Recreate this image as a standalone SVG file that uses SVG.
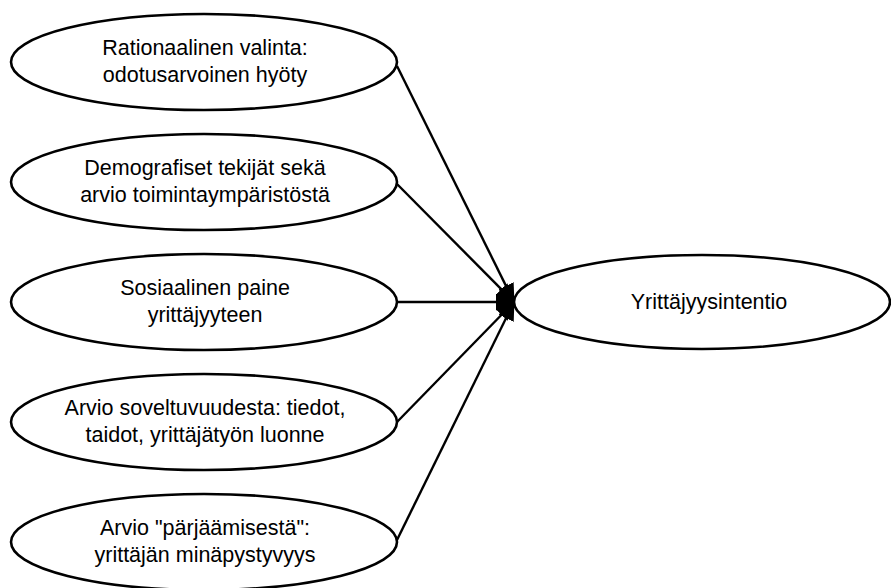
<svg xmlns="http://www.w3.org/2000/svg" width="891" height="588" viewBox="0 0 891 588">
<style>
.node ellipse{fill:#fff;stroke:#000;stroke-width:2.6}
.node text{font-family:"Liberation Sans",Arial,sans-serif;font-size:21.5px;fill:#000;text-anchor:middle}
.conn line{stroke:#000;stroke-width:2.4;fill:none}
</style>
<defs>
<marker id="arr" viewBox="0 0 19 17" refX="18" refY="8.5" markerWidth="19" markerHeight="17" markerUnits="userSpaceOnUse" orient="auto">
<path d="M0,0 L19,8.5 L0,17 Z" fill="#000"/>
</marker>
</defs>
<rect width="891" height="588" fill="#fff"/>
<g id="connectors" class="conn">
<line x1="397" y1="66" x2="514" y2="302" marker-end="url(#arr)"/>
<line x1="397" y1="184" x2="514" y2="302" marker-end="url(#arr)"/>
<line x1="398" y1="302" x2="514" y2="302" marker-end="url(#arr)"/>
<line x1="397" y1="422" x2="514" y2="302" marker-end="url(#arr)"/>
<line x1="396" y1="542" x2="514" y2="302" marker-end="url(#arr)"/>
</g>
<g id="n1" class="node">
<ellipse cx="204" cy="62" rx="193" ry="48"/>
<text x="205" y="55">Rationaalinen valinta:</text>
<text x="205" y="82">odotusarvoinen hyöty</text>
</g>
<g id="n2" class="node">
<ellipse cx="204" cy="182" rx="193" ry="48"/>
<text x="205" y="175">Demografiset tekijät sekä</text>
<text x="205" y="202">arvio toimintaympäristöstä</text>
</g>
<g id="n3" class="node">
<ellipse cx="204" cy="302" rx="193" ry="48"/>
<text x="205" y="295">Sosiaalinen paine</text>
<text x="205" y="322">yrittäjyyteen</text>
</g>
<g id="n4" class="node">
<ellipse cx="204" cy="422" rx="193" ry="48"/>
<text x="205" y="415">Arvio soveltuvuudesta: tiedot,</text>
<text x="205" y="442">taidot, yrittäjätyön luonne</text>
</g>
<g id="n5" class="node">
<ellipse cx="204" cy="542" rx="193" ry="48"/>
<text x="205" y="535">Arvio "pärjäämisestä":</text>
<text x="205" y="562">yrittäjän minäpystyvyys</text>
</g>
<g id="n6" class="node">
<ellipse cx="702" cy="302" rx="188" ry="47"/>
<text x="709" y="309">Yrittäjyysintentio</text>
</g>
</svg>
